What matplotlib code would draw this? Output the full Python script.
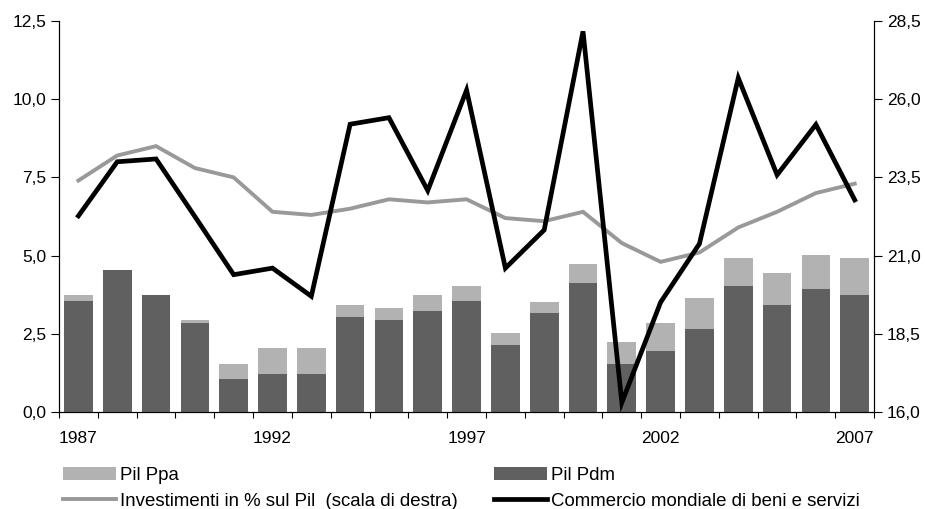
import matplotlib.pyplot as plt
import numpy as np

anni = list(range(1987, 2008))
pil_ppa = [3.73, 4.53, 3.73, 2.93, 1.54, 2.03, 2.03, 3.43, 3.33, 3.73, 4.03,
           2.54, 3.53, 4.73, 2.24, 2.84, 3.64, 4.93, 4.43, 5.03, 4.93]
pil_pdm = [3.54, 4.53, 3.73, 2.85, 1.04, 1.23, 1.23, 3.03, 2.93, 3.24, 3.54,
           2.14, 3.15, 4.12, 1.54, 1.95, 2.64, 4.04, 3.43, 3.93, 3.73]
commercio = [6.27, 8.00, 8.09, 6.25, 4.39, 4.60, 3.70, 9.20, 9.41, 7.08, 10.29,
             4.60, 5.82, 12.17, 0.30, 3.51, 5.38, 10.68, 7.58, 9.19, 6.78]
investimenti = [23.4, 24.2, 24.5, 23.8, 23.5, 22.4, 22.3, 22.5, 22.8, 22.7, 22.8,
                22.2, 22.1, 22.4, 21.4, 20.8, 21.1, 21.9, 22.4, 23.0, 23.3]

plt.rcParams['font.family'] = ['Liberation Sans', 'DejaVu Sans']

fig = plt.figure(figsize=(9.25, 5.09), dpi=100)
ax = fig.add_axes([0.0638, 0.1906, 0.8812, 0.7681])
ax2 = ax.twinx()
# asse sinistro sopra, cosi la linea nera copre quella grigia
ax.set_zorder(ax2.get_zorder() + 1)
ax.patch.set_visible(False)

x = np.arange(len(anni))
b1 = ax.bar(x, pil_ppa, width=0.74, color='#b2b2b2')
b2 = ax.bar(x, pil_pdm, width=0.74, color='#606060')
l2, = ax2.plot(x, investimenti, color='#999999', lw=2.8, solid_joinstyle='miter')
l1, = ax.plot(x, commercio, color='black', lw=3.4, solid_joinstyle='miter')

ax.set_xlim(-0.5, len(anni) - 0.5)
ax.set_ylim(0, 12.5)
ax2.set_ylim(16, 28.5)
yt = np.arange(0, 12.6, 2.5)
ax.set_yticks(yt)
ax.set_yticklabels([f'{v:.1f}'.replace('.', ',') for v in yt])
yt2 = np.arange(16, 28.6, 2.5)
ax2.set_yticks(yt2)
ax2.set_yticklabels([f'{v:.1f}'.replace('.', ',') for v in yt2])

ax.set_xticks(x[::5])
ax.set_xticklabels([str(a) for a in anni[::5]])
ax.set_xticks(np.arange(-0.5, len(anni), 1), minor=True)
ax.tick_params(axis='x', which='major', length=0, pad=14, labelsize=12.5)
ax.tick_params(axis='x', which='minor', length=4, direction='out', width=0.8)
ax.tick_params(axis='y', length=6, width=0.8, labelsize=12.5, pad=3)
ax2.tick_params(axis='y', length=6, width=0.8, labelsize=12.5, pad=3)

for a in (ax, ax2):
    a.spines['top'].set_visible(False)
    for s in ('left', 'right', 'bottom'):
        a.spines[s].set_linewidth(0.8)

fig.legend([b1, l2, b2, l1],
           ['Pil Ppa', 'Investimenti in % sul Pil  (scala di destra)', 'Pil Pdm',
            'Commercio mondiale di beni e servizi'],
           ncol=2, loc='upper left', bbox_to_anchor=(0.0678, 0.082), frameon=False,
           fontsize=13.4, handlelength=2.85, handletextpad=0.22, columnspacing=1.96,
           labelspacing=0.45, borderpad=0, borderaxespad=0)

fig.savefig('out.png', dpi=100)
